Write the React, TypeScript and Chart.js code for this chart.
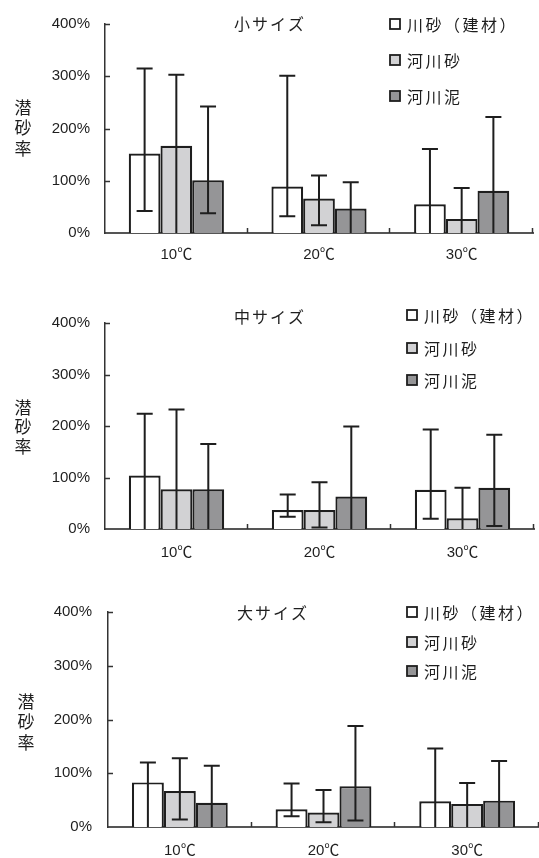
import React, { useEffect, useRef } from "react";
import { Chart, registerables } from "chart.js";

Chart.register(...registerables);

// ---------- data ----------
const categories = ["10℃", "20℃", "30℃"];
const seriesLabels = ["川砂（建材）", "河川砂", "河川泥"];
const yTickValues = [0, 100, 200, 300, 400];
const yAxisTitle = ["潜", "砂", "率"];

// 小サイズ
const smallBuildSand = [152, 89, 55];
const smallBuildSandHigh = [315, 301, 161];
const smallBuildSandLow = [42, 32, 0];
const smallRiverSand = [167, 66, 27];
const smallRiverSandHigh = [303, 110, 86];
const smallRiverSandLow = [0, 15, 0];
const smallRiverMud = [101, 47, 81];
const smallRiverMudHigh = [242, 97, 222];
const smallRiverMudLow = [38, 0, 0];

// 中サイズ
const mediumBuildSand = [104, 37, 76];
const mediumBuildSandHigh = [224, 67, 193];
const mediumBuildSandLow = [0, 24, 20];
const mediumRiverSand = [77, 37, 21];
const mediumRiverSandHigh = [232, 91, 80];
const mediumRiverSandLow = [0, 3, 0];
const mediumRiverMud = [77, 63, 80];
const mediumRiverMudHigh = [165, 199, 183];
const mediumRiverMudLow = [0, 0, 6];

// 大サイズ
const largeBuildSand = [83, 33, 48];
const largeBuildSandHigh = [120, 81, 146];
const largeBuildSandLow = [0, 20, 0];
const largeRiverSand = [67, 27, 43];
const largeRiverSandHigh = [128, 69, 82];
const largeRiverSandLow = [14, 9, 0];
const largeRiverMud = [45, 76, 49];
const largeRiverMudHigh = [114, 188, 123];
const largeRiverMudLow = [0, 12, 0];

// ---------- style ----------
const W = 539;
const seriesColors = ["#ffffff", "#d2d2d4", "#959597"];
const INK = "#1e1e1e";
const NUM_FONT = "'Liberation Sans', 'Noto Sans CJK JP', sans-serif";
const JP_FONT = "'Noto Sans CJK JP', 'Noto Sans', sans-serif";

const panels = [
  {
    title: "小サイズ",
    means: [smallBuildSand, smallRiverSand, smallRiverMud],
    highs: [smallBuildSandHigh, smallRiverSandHigh, smallRiverMudHigh],
    lows: [smallBuildSandLow, smallRiverSandLow, smallRiverMudLow],
    top: 0, height: 280,
    area: { top: 20, bottom: 233, left: 105, right: 533 },
    titleX: 270, titleY: 24,
    legendBoxX: 390, legendTextX: 407, legendRows: [24, 60, 96],
    yTitleX: 23, yTitleYs: [108, 128, 149],
    xLabelOff: 22, yLabelPad: 15,
  },
  {
    title: "中サイズ",
    means: [mediumBuildSand, mediumRiverSand, mediumRiverMud],
    highs: [mediumBuildSandHigh, mediumRiverSandHigh, mediumRiverMudHigh],
    lows: [mediumBuildSandLow, mediumRiverSandLow, mediumRiverMudLow],
    top: 280, height: 290,
    area: { top: 43, bottom: 249, left: 105, right: 534 },
    titleX: 270, titleY: 37,
    legendBoxX: 407, legendTextX: 424, legendRows: [35, 68, 100],
    yTitleX: 23, yTitleYs: [128, 147, 167],
    xLabelOff: 24, yLabelPad: 15,
  },
  {
    title: "大サイズ",
    means: [largeBuildSand, largeRiverSand, largeRiverMud],
    highs: [largeBuildSandHigh, largeRiverSandHigh, largeRiverMudHigh],
    lows: [largeBuildSandLow, largeRiverSandLow, largeRiverMudLow],
    top: 570, height: 288,
    area: { top: 42, bottom: 257, left: 108, right: 539 },
    titleX: 273, titleY: 43,
    legendBoxX: 407, legendTextX: 424, legendRows: [42, 72, 101],
    yTitleX: 26, yTitleYs: [132, 152, 173],
    xLabelOff: 24, yLabelPad: 16,
  },
];

function Panel({ cfg }: { cfg: any }) {
  const ref = useRef<HTMLCanvasElement | null>(null);

  useEffect(() => {
    const canvas = ref.current!;
    const decoPlugin = {
      id: "deco",
      afterDatasetsDraw(chart: any) {
        const ctx = chart.ctx;
        const y = chart.scales.y;
        ctx.save();
        ctx.strokeStyle = INK;
        ctx.lineWidth = 2;
        cfg.means.forEach((_: number[], i: number) => {
          const meta = chart.getDatasetMeta(i);
          meta.data.forEach((bar: any, j: number) => {
            const x = bar.x;
            const yHi = y.getPixelForValue(cfg.highs[i][j]);
            const yLo = y.getPixelForValue(cfg.lows[i][j]);
            ctx.beginPath();
            ctx.moveTo(x, yLo);
            ctx.lineTo(x, yHi);
            ctx.moveTo(x - 8, yHi);
            ctx.lineTo(x + 8, yHi);
            if (cfg.lows[i][j] > 0) {
              ctx.moveTo(x - 8, yLo);
              ctx.lineTo(x + 8, yLo);
            }
            ctx.stroke();
          });
        });
        ctx.restore();
      },
      afterDraw(chart: any) {
        const ctx = chart.ctx;
        const ca = chart.chartArea;
        const y = chart.scales.y;
        ctx.save();
        // inward tick marks
        ctx.strokeStyle = "#333";
        ctx.lineWidth = 1.5;
        yTickValues.forEach((v) => {
          if (v === 0) return;
          const py = Math.round(y.getPixelForValue(v)) + 0.5;
          ctx.beginPath();
          ctx.moveTo(ca.left, py);
          ctx.lineTo(ca.left + 5, py);
          ctx.stroke();
        });
        const n = categories.length;
        const step = (ca.right - ca.left) / n;
        for (let k = 1; k <= n; k++) {
          const px = Math.round(ca.left + step * k) - 0.5;
          ctx.beginPath();
          ctx.moveTo(px, ca.bottom);
          ctx.lineTo(px, ca.bottom - 5);
          ctx.stroke();
        }
        // title
        ctx.fillStyle = INK;
        ctx.font = `16px ${JP_FONT}`;
        (ctx as any).letterSpacing = "2px";
        ctx.textAlign = "center";
        ctx.textBaseline = "middle";
        ctx.fillText(cfg.title, cfg.titleX, cfg.titleY);
        // legend
        ctx.textAlign = "left";
        (ctx as any).letterSpacing = "2.5px";
        seriesLabels.forEach((label, i) => {
          const ry = cfg.legendRows[i];
          ctx.fillStyle = seriesColors[i];
          ctx.fillRect(cfg.legendBoxX, ry - 5, 10, 10);
          ctx.strokeStyle = INK;
          ctx.lineWidth = 1.8;
          ctx.strokeRect(cfg.legendBoxX, ry - 5, 10, 10);
          ctx.fillStyle = INK;
          ctx.fillText(label, cfg.legendTextX, ry + 1);
        });
        (ctx as any).letterSpacing = "0px";
        // y axis title (vertical)
        ctx.textAlign = "center";
        ctx.font = `17px ${JP_FONT}`;
        yAxisTitle.forEach((ch, i) => {
          ctx.fillText(ch, cfg.yTitleX, cfg.yTitleYs[i]);
        });
        ctx.restore();
      },
    };

    const chart = new Chart(canvas, {
      type: "bar",
      data: {
        labels: categories,
        datasets: seriesLabels.map((label, i) => ({
          label,
          data: cfg.means[i],
          backgroundColor: seriesColors[i],
          borderColor: INK,
          borderWidth: 2.2,
          categoryPercentage: 0.667,
          barPercentage: 1,
        })),
      },
      options: {
        responsive: false,
        animation: false,
        devicePixelRatio: 1,
        layout: {
          padding: {
            left: 0,
            top: cfg.area.top,
            right: W - cfg.area.right,
            bottom: 0,
          },
        },
        plugins: {
          legend: { display: false },
          title: { display: false },
          tooltip: { enabled: false },
        },
        scales: {
          x: {
            grid: { display: false, drawTicks: false },
            border: { display: true, color: "#555", width: 2 },
            ticks: {
              color: INK,
              font: { family: NUM_FONT, size: 15 },
              padding: cfg.xLabelOff - 9,
            },
            afterFit: (s: any) => {
              s.height = cfg.height - cfg.area.bottom;
            },
          },
          y: {
            min: 0,
            max: 400,
            grid: { display: false, drawTicks: false },
            border: { display: true, color: "#333", width: 1.5 },
            afterBuildTicks: (s: any) => {
              s.ticks = yTickValues.map((v) => ({ value: v }));
            },
            ticks: {
              color: INK,
              font: { family: NUM_FONT, size: 15 },
              padding: cfg.yLabelPad,
              callback: (v: any) => `${v}%`,
            },
            afterFit: (s: any) => {
              s.width = cfg.area.left;
            },
          },
        },
      },
      plugins: [decoPlugin],
    });
    return () => chart.destroy();
  }, []);

  return (
    <canvas
      ref={ref}
      width={W}
      height={cfg.height}
      style={{ position: "absolute", left: 0, top: cfg.top, display: "block" }}
    />
  );
}

export default function App() {
  return (
    <div
      style={{
        position: "absolute",
        left: 0,
        top: 0,
        width: W,
        height: 858,
        background: "#ffffff",
        overflow: "hidden",
      }}
    >
      {panels.map((p, i) => (
        <Panel key={i} cfg={p} />
      ))}
    </div>
  );
}
